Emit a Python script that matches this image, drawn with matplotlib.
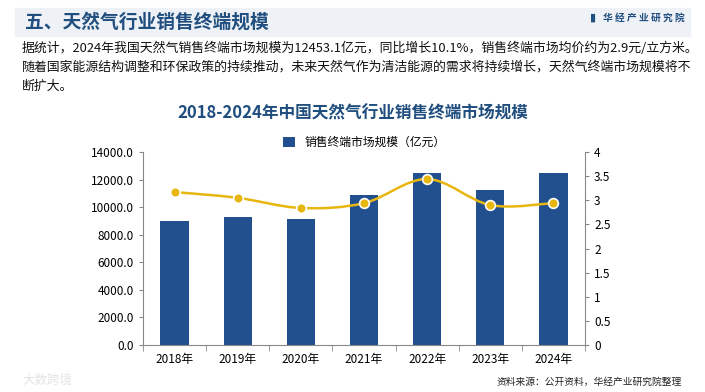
import numpy as np
import matplotlib.pyplot as plt
from matplotlib.path import Path
from matplotlib.patches import PathPatch, Rectangle

plt.rcParams['font.family'] = ['Noto Sans CJK SC', 'DejaVu Sans']

years = ['2018年', '2019年', '2020年', '2021年', '2022年', '2023年', '2024年']
market_size = [9000.0, 9280.0, 9140.0, 10880.0, 12470.0, 11240.0, 12453.1]
avg_price = [3.17, 3.05, 2.84, 2.94, 3.44, 2.90, 2.94]

BLUE = '#22508e'
GOLD = '#e8b70f'
TITLE_BLUE = '#1f4e7f'

fig = plt.figure(figsize=(7.05, 3.92), dpi=100)

# header band
fig.patches.append(Rectangle((15 / 705, 1 - 36 / 392), 675 / 705, 28 / 392,
                             transform=fig.transFigure, color='#eef1f5', zorder=0))
fig.text(25 / 705, 1 - 22 / 392, '五、天然气行业销售终端规模', fontsize=13.5,
         fontweight='bold', color=TITLE_BLUE, va='center')
fig.text(590 / 705, 1 - 18 / 392, '▮', fontsize=8, color=TITLE_BLUE, va='center')
fig.text(603 / 705, 1 - 18 / 392, '华 经 产 业 研 究 院', fontsize=7, fontweight='bold',
         color=TITLE_BLUE, va='center')

para = ['据统计，2024年我国天然气销售终端市场规模为12453.1亿元，同比增长10.1%，销售终端市场均价约为2.9元/立方米。',
        '随着国家能源结构调整和环保政策的持续推动，未来天然气作为清洁能源的需求将持续增长，天然气终端市场规模将不',
        '断扩大。']
for i, line in enumerate(para):
    fig.text(22 / 705, 1 - (48 + 19 * i) / 392, line, fontsize=9.3, color='#111111', va='center')

fig.text(0.5, 1 - 113 / 392, '2018-2024年中国天然气行业销售终端市场规模', fontsize=12,
         fontweight='bold', color=TITLE_BLUE, ha='center', va='center')

fig.text(682 / 705, 1 - 382 / 392, '资料来源：公开资料，华经产业研究院整理', fontsize=7,
         color='#222222', ha='right', va='center')
fig.text(22 / 705, 1 - 380 / 392, '大数跨境', fontsize=9, color='#e4e4e4', va='center')

ax = fig.add_axes([143 / 705, 1 - 345 / 392, 442 / 705, 193 / 392])
x = np.arange(len(years))
bars = ax.bar(x, market_size, width=0.45, color=BLUE, label='销售终端市场规模（亿元）', zorder=2)
ax.set_xlim(-0.5, len(years) - 0.5)
ax.set_ylim(0, 14000)
ax.set_yticks(np.arange(0, 14001, 2000))
ax.set_yticklabels([f'{v:.1f}' for v in np.arange(0, 14001, 2000)])
ax.set_xticks(x)
ax.set_xticklabels(years)
ax.set_xticks(np.arange(-0.5, len(years), 1), minor=True)
ax.tick_params(axis='x', which='major', length=0, labelsize=8.5, pad=6)
ax.tick_params(axis='x', which='minor', length=4, color='#888888')
ax.tick_params(axis='y', labelsize=8.5, length=3, color='#888888')
for s in ['top', 'right']:
    ax.spines[s].set_visible(False)
for s in ['left', 'bottom']:
    ax.spines[s].set_color('#888888')

ax2 = ax.twinx()
ax2.set_ylim(0, 4)
ax2.set_yticks([0, 0.5, 1, 1.5, 2, 2.5, 3, 3.5, 4])
ax2.set_yticklabels(['0', '0.5', '1', '1.5', '2', '2.5', '3', '3.5', '4'])
ax2.tick_params(axis='y', labelsize=8.5, length=3, color='#888888')
for s in ['top', 'left', 'bottom']:
    ax2.spines[s].set_visible(False)
ax2.spines['right'].set_color('#888888')

# smooth line through the points (Catmull-Rom as cubic Bezier)
px = np.array(x, dtype=float)
py = np.array(avg_price)
verts = [(px[0], py[0])]
codes = [Path.MOVETO]
t = 1 / 6
for i in range(len(px) - 1):
    p0 = np.array([px[max(i - 1, 0)], py[max(i - 1, 0)]])
    p1 = np.array([px[i], py[i]])
    p2 = np.array([px[i + 1], py[i + 1]])
    p3 = np.array([px[min(i + 2, len(px) - 1)], py[min(i + 2, len(px) - 1)]])
    c1 = p1 + (p2 - p0) * t
    c2 = p2 - (p3 - p1) * t
    verts += [tuple(c1), tuple(c2), tuple(p2)]
    codes += [Path.CURVE4] * 3
ax2.add_patch(PathPatch(Path(verts, codes), fill=False, edgecolor=GOLD, lw=1.8, zorder=3))
ax2.plot(px, py, 'o', color=GOLD, markersize=7, markeredgecolor='white',
         markeredgewidth=1.2, zorder=4)

ax.legend(loc='lower center', bbox_to_anchor=(0.5, 0.99), frameon=False, fontsize=8.5,
          handlelength=1.0, handleheight=0.9, borderaxespad=0)

fig.savefig('out.png', dpi=100)
